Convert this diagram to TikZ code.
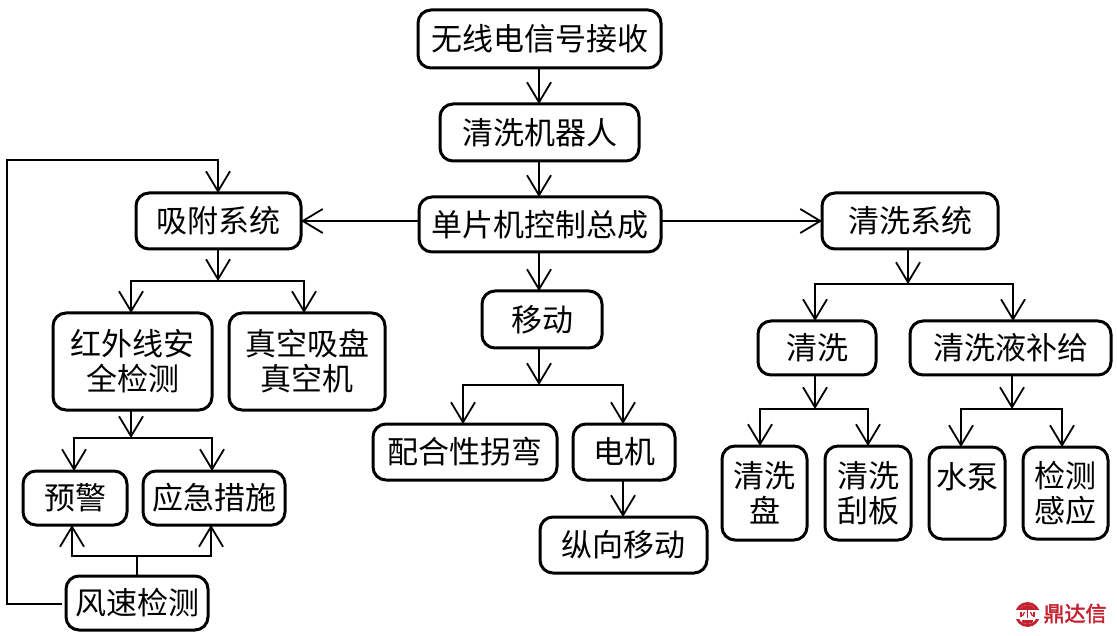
\documentclass[tikz,border=0pt]{standalone}
\usepackage{fontspec}
\setmainfont{Noto Sans CJK SC}
\newfontfamily\brandfont[FakeBold=2]{Noto Sans CJK SC}
\usetikzlibrary{arrows.meta,calc}
\definecolor{brandred}{RGB}{196,32,46}
\tikzset{
  x=1pt,y=-1pt,
  blockbox/.style={draw=black,line width=3pt,rounded corners=13pt,fill=white,outer sep=0pt,
    inner sep=0pt,align=center,font=\fontsize{31}{35}\selectfont},
  link/.style={line width=1.6pt,black},
  flow/.style={link,-{Straight Barb[length=20pt,width=24pt,line width=1.8pt]}}
}
% a block given by its left, top, right and bottom edges
\newcommand{\block}[6]{\node[blockbox,minimum width=#4pt-#2pt,minimum height=#5pt-#3pt,anchor=north west] (#1) at (#2,#3) {#6};}
\begin{document}
\begin{tikzpicture}
\useasboundingbox (0,0) rectangle (1117,636);
\block{radio}{418}{10}{661}{68}{无线电信号接收}
\block{robot}{440}{104}{639}{161}{清洗机器人}
\block{mcu}{419}{197}{661}{252}{单片机控制总成}
\block{suction}{136}{193}{301}{249}{吸附系统}
\block{washsys}{822}{193}{998}{249}{清洗系统}
\block{move}{482}{291}{602}{348}{移动}
\block{infra}{53}{313}{212}{410}{红外线安\\全检测}
\block{vacuum}{229}{313}{385}{410}{真空吸盘\\真空机}
\block{warn}{23}{471}{127}{525}{预警}
\block{emerg}{143}{471}{285}{525}{应急措施}
\block{wind}{66}{576}{208}{630}{风速检测}
\block{turn}{373}{424}{557}{480}{配合性拐弯}
\block{motor}{573}{424}{675}{480}{电机}
\block{longi}{540}{517}{707}{573}{纵向移动}
\block{wash}{758}{321}{876}{375}{清洗}
\block{supply}{910}{321}{1111}{375}{清洗液补给}
\block{disc}{722}{446}{807}{540}{清洗\\盘}
\block{blade}{825}{446}{911}{540}{清洗\\刮板}
\block{pump}{929}{447}{1005}{539}{}
\node[font=\fontsize{31}{35}\selectfont,inner sep=0pt] (pumplabel) at (967,477) {水泵};
\block{sense}{1023}{447}{1108}{539}{检测\\感应}

% fork junctions
\coordinate (fa) at (218,281);
\coordinate (fb) at (131,438);
\coordinate (fc) at (137,556);
\coordinate (fd) at (539,385);
\coordinate (fe) at (908,284);
\coordinate (ff) at (815,409);
\coordinate (fg) at (1012,409);

% main trunk
\draw[flow] (radio.south -| 539,68) -- (robot.north -| 539,102);
\draw[flow] (robot.south -| 539,161) -- (mcu.north -| 539,195);
\coordinate (busl) at (419,221);
\coordinate (busr) at (661,221);
\draw[flow] (busl) -- (suction.east |- busl);
\draw[flow] (busr) -- (washsys.west |- busr);
\draw[flow] (mcu.south -| 539,252) -- (move.north -| 539,289);

% suction branch
\draw[flow] (suction.south -| fa) -- (fa);
\draw[flow] (fa) -| (infra.north -| 131,311);
\draw[flow] (fa) -| (vacuum.north -| 304,311);
\draw[flow] (infra.south -| fb) -- (fb);
\draw[flow] (fb) -| (warn.north -| 74,469);
\draw[flow] (fb) -| (emerg.north -| 212,469);

% wind sensing feeds
\draw[link] (wind.north -| fc) -- (fc);
\draw[flow] (fc) -| (warn.south -| 72,528);
\draw[flow] (fc) -| (emerg.south -| 211,528);
\coordinate (wl) at (7,604);
\coordinate (wt) at (7,160);
\draw[flow] (wind.west |- wl) ++(-4,0) -- (wl) -- (wt) -| (suction.north -| 218,191);

% moving branch
\draw[flow] (move.south -| fd) -- (fd);
\draw[flow] (fd) -| (turn.north -| 463,422);
\draw[flow] (fd) -| (motor.north -| 623,422);
\draw[flow] (motor.south -| 623,480) -- (longi.north -| 623,515);

% washing branch
\draw[flow] (washsys.south -| fe) -- (fe);
\draw[flow] (fe) -| (wash.north -| 815,319);
\draw[flow] (fe) -| (supply.north -| 1013,319);
\draw[flow] (wash.south -| ff) -- (ff);
\draw[flow] (ff) -| (disc.north -| 760,440);
\draw[flow] (ff) -| (blade.north -| 868,440);
\draw[flow] (supply.south -| fg) -- (fg);
\draw[flow] (fg) -| (pump.north -| 961,441);
\draw[flow] (fg) -| (sense.north -| 1062,441);

% publisher mark
\fill[brandred] (1027.5,614.5) circle (12.5);
\fill[white] (1027.5,614.5) circle (9.5);
\fill[white] (1014,608.5) rectangle (1041,618.5);
\begin{scope}
  \clip (1027.5,614.5) circle (9.5);
  \fill[brandred] (1017,604) rectangle (1038,609);
  \fill[brandred] (1022,620) rectangle (1033,625);
\end{scope}
\fill[brandred] (1016,608.5) rectangle (1039,610);
\draw[brandred,line width=1.2pt] (1027.5,610) -- (1027.5,618);
\draw[brandred,line width=1.2pt] (1021,612) -- (1021,617) (1034,612) -- (1034,617);
\draw[brandred,line width=1.2pt] (1024.5,612) -- (1022.5,616) (1030.5,612) -- (1032.5,616);
\node[font=\brandfont\fontsize{21}{21}\selectfont,text=brandred,inner sep=0pt] (brand) at (1075,613.5) {鼎达信};
\end{tikzpicture}
\end{document}
